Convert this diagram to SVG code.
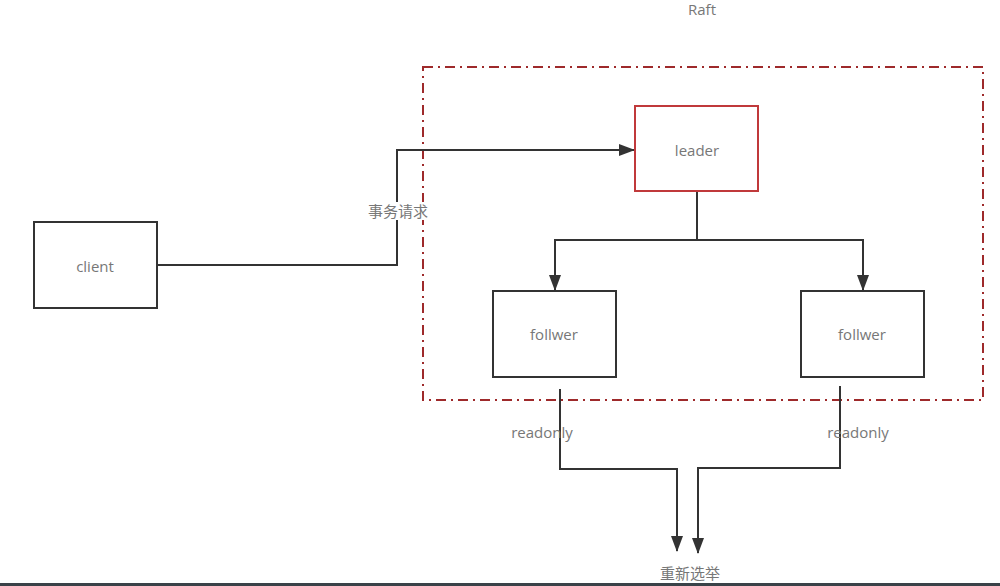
<svg xmlns="http://www.w3.org/2000/svg" width="1000" height="586" viewBox="0 0 1000 586">
<defs>
<style>
.box{fill:#fff;stroke:#333;stroke-width:2}
.lead{fill:#fff;stroke:#c0393b;stroke-width:2}
.t{font-family:"Open Sans","Liberation Sans","Noto Sans CJK SC",sans-serif;font-size:15px;fill:#777;text-anchor:middle;dominant-baseline:central}
.c{fill:none;stroke:#333;stroke-width:2}
</style>
<marker id="a" viewBox="0 0 16 12" refX="15" refY="6" markerWidth="16" markerHeight="12" orient="auto" markerUnits="userSpaceOnUse">
<path d="M0,0 L16,6 L0,12 z" fill="#333"/>
</marker>
</defs>
<rect width="1000" height="586" fill="#fff"/>
<text class="t" x="702" y="9">Raft</text>
<rect x="423" y="67" width="560" height="333" fill="none" stroke="#9e2a2b" stroke-width="2" stroke-dasharray="10 5 2 5"/>
<g id="connectors">
<polyline class="c" points="157,265 397,265 397,150 634,150" marker-end="url(#a)"/>
<polyline class="c" points="697,191 697,240 555,240 555,290" marker-end="url(#a)"/>
<polyline class="c" points="697,240 863,240 863,290" marker-end="url(#a)"/>
<polyline class="c" points="560,389 560,469 677,469 677,551" marker-end="url(#a)"/>
<polyline class="c" points="840,386 840,468 698,468 698,553" marker-end="url(#a)"/>
<rect x="364" y="202" width="68" height="18" fill="#fff"/>
<text class="t" x="398" y="211">事务请求</text>
<text class="t" x="542" y="432">readonly</text>
<text class="t" x="858" y="432">readonly</text>
</g>
<g id="client"><rect class="box" x="34" y="222" width="123" height="86"/><text class="t" x="95" y="266">client</text></g>
<g id="leader"><rect class="lead" x="635" y="106" width="123" height="85"/><text class="t" x="697" y="150">leader</text></g>
<g id="follwer1"><rect class="box" x="493" y="291" width="123" height="86"/><text class="t" x="554" y="334">follwer</text></g>
<g id="follwer2"><rect class="box" x="801" y="291" width="123" height="86"/><text class="t" x="862" y="334">follwer</text></g>
<text class="t" x="690" y="573">重新选举</text>
<rect x="0" y="583" width="1000" height="3" fill="#3a4248"/>
</svg>
